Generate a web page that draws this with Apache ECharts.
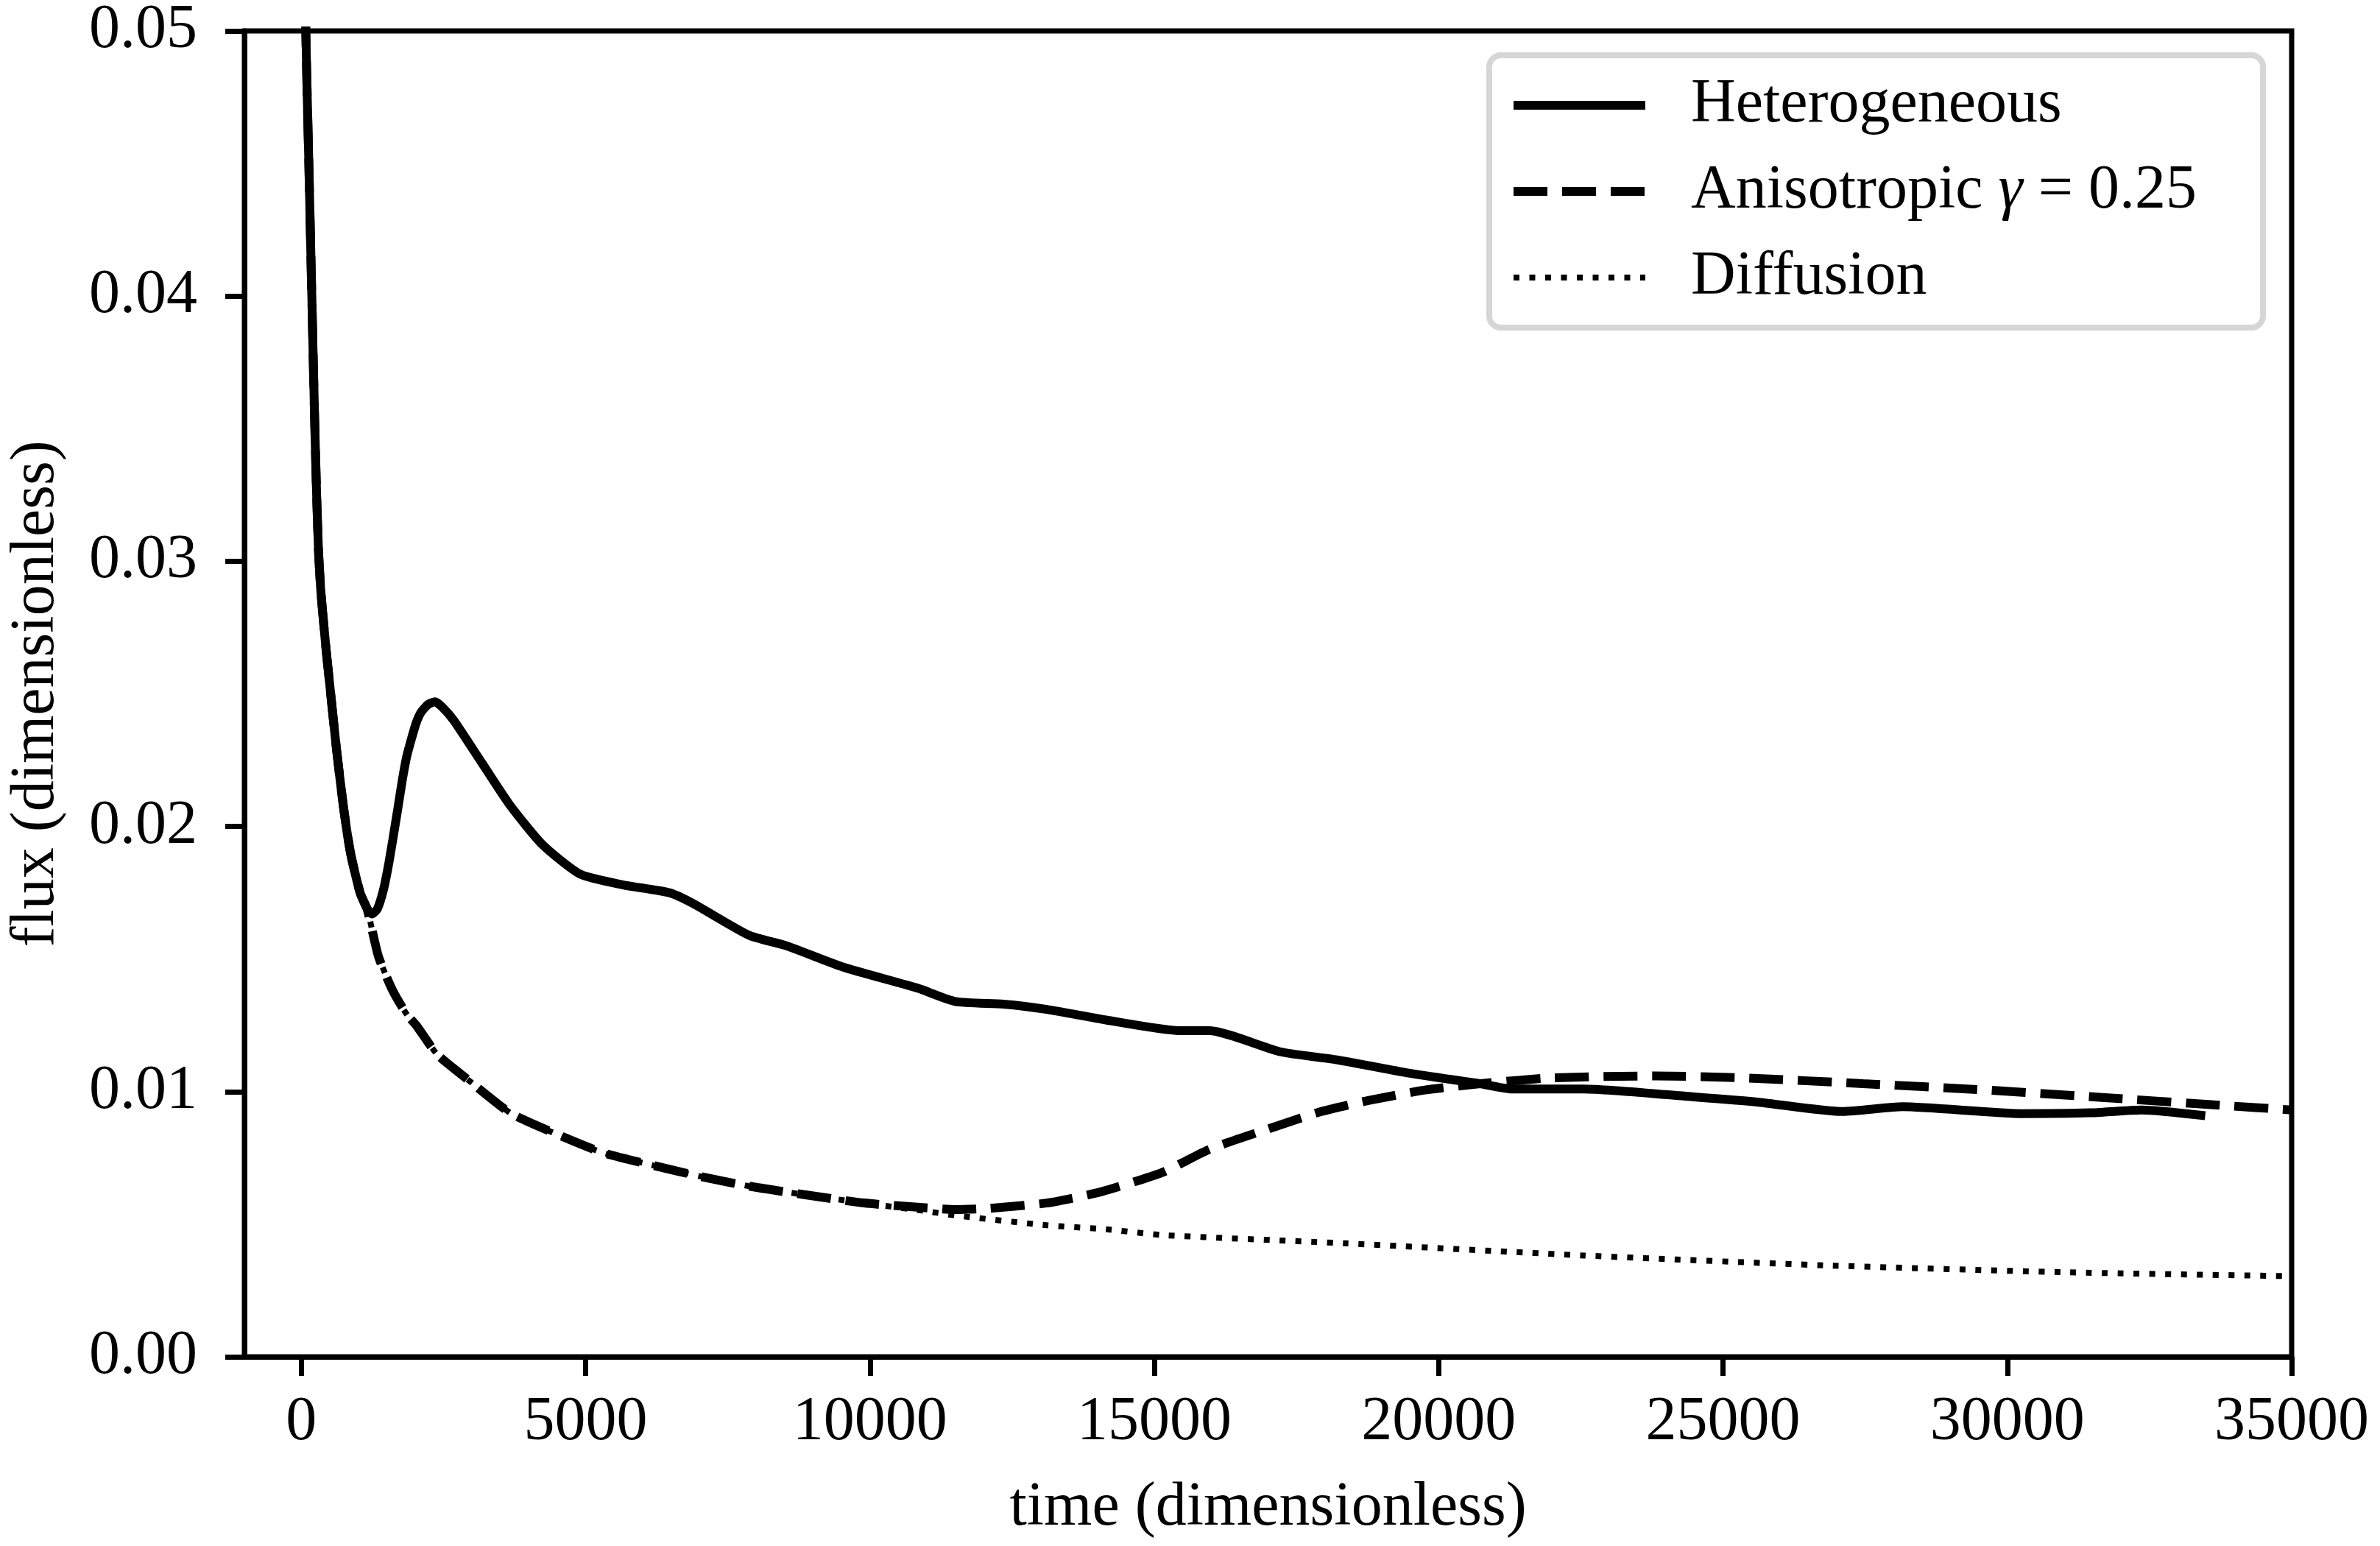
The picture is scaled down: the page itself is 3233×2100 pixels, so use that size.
<!DOCTYPE html>
<html>
<head>
<meta charset="utf-8">
<script src="https://cdn.jsdelivr.net/npm/echarts@6/dist/echarts.min.js"></script>
<style>
  html, body { margin: 0; padding: 0; background: #fff; }
  #main { width: 3233px; height: 2100px; }
</style>
</head>
<body>
<div id="main"></div>
<script>
var dom = document.getElementById("main");
var myChart = echarts.init(dom);

// [time, flux]
var earlyDrop = [[50,0.058],[80,0.050],[130,0.0453],[180,0.0405],[230,0.0358],[270,0.0325],[305,0.0303],[340,0.0290],[375,0.0281],[435,0.0267],
  [498,0.0254],[620,0.0229],[744,0.0207],[866,0.0190],[1034,0.0175],[1157,0.0169]];

var heterogeneous = earlyDrop.concat([[1240,0.0167],[1340,0.0169],[1444,0.0176],[1530,0.0185],[1609,0.0195],[1700,0.0207],[1773,0.0217],[1850,0.0226],[1937,0.0233],
  [2020,0.0239],[2104,0.0243],[2230,0.0246],[2351,0.0247],[2480,0.0245],[2681,0.0240],[3175,0.0224],[3670,0.0208],[4247,0.0193],[4906,0.0182],
  [5646,0.0178],[6471,0.0175],[6884,0.0171],[7868,0.0159],[8528,0.0155],[9522,0.0147],[10840,0.0139],[11500,0.0134],[12350,0.0133],[13110,0.0131],[14150,0.0127],
  [15440,0.0123],[15970,0.0123],[17220,0.0115],[18210,0.0112],[19470,0.0107],[20730,0.0103],[21290,0.0101],[22550,0.0101],[24490,0.0098],[25630,0.0096],[27110,0.00925],
  [28160,0.00943],[30260,0.00917],[31450,0.0092],[32360,0.00931],[33480,0.00909]]);

var anisotropic = earlyDrop.concat([[1357,0.0151],[1610,0.0138],[1859,0.0129],[2022,0.0125],[2391,0.0114],[2930,0.01045],[3680,0.00919],[4431,0.00845],[5286,0.00771],[6145,0.00724],[7003,0.00681],[7859,0.00644],
  [8824,0.00612],[9895,0.0058],[10967,0.00562],[11503,0.00555],[12039,0.00559],[13111,0.0058],[14075,0.00623],[15147,0.00696],[15975,0.00783],[16958,0.00856],[17940,0.00925],
  [18780,0.00967],[19762,0.01006],[20732,0.0103],[21998,0.01052],[23821,0.01059],[25359,0.01052],[27465,0.0103],[29559,0.01007],[31666,0.00978],[33773,0.00948],[35000,0.00931]]);

var diffusion = earlyDrop.concat([[1357,0.0151],[1610,0.0138],[1859,0.0129],[2022,0.0125],[2391,0.0114],[2930,0.01045],[3680,0.00919],[4431,0.00845],[5286,0.00771],[6145,0.00724],[7003,0.00681],[7859,0.00644],
  [8824,0.00612],[9895,0.0058],[10967,0.0055],[11503,0.00533],[13111,0.00496],[14153,0.00481],[15147,0.00459],[18353,0.00428],[22554,0.00382],[26768,0.00345],[30968,0.00319],[35000,0.00304]]);

var xTicks = [0, 5000, 10000, 15000, 20000, 25000, 30000, 35000];
var seriesNames = ['Heterogeneous', 'Anisotropic γ = 0.25', 'Diffusion'];

var font = 'Liberation Serif';

option = {
    animation: false,
    backgroundColor: '#fff',
    grid: {
        left: 328, right: 120, top: 33, bottom: 257,
        show: true, borderColor: '#000', borderWidth: 7, backgroundColor: 'transparent'
    },
    legend: {
        orient: 'vertical',
        left: 2023, top: 75,
        padding: [26, 90, 26, 27],
        itemWidth: 179, itemHeight: 12, itemGap: 33,
        backgroundColor: 'rgba(255,255,255,0.8)',
        borderColor: '#d6d6d6', borderWidth: 8, borderRadius: 16,
        itemStyle: { opacity: 0 },
        textStyle: {
            fontFamily: font, fontSize: 84, color: '#000', lineHeight: 84,
            padding: [0, 0, 0, 57],
            rich: {
                t: { fontFamily: font, fontSize: 84, color: '#000' },
                g: { fontFamily: font, fontSize: 84, color: '#000', fontStyle: 'italic' }
            }
        },
        formatter: function (name) {
            if (name === seriesNames[1]) return '{t|Anisotropic }{g|γ}{t| = 0.25}';
            return name;
        },
        data: [
            { name: seriesNames[0], lineStyle: { width: 12 } },
            { name: seriesNames[1], lineStyle: { width: 12 } },
            { name: seriesNames[2], lineStyle: { width: 8 } }
        ]
    },
    xAxis: {
        type: 'value', min: -1000, max: 35000,
        name: 'time (dimensionless)', nameLocation: 'middle', nameGap: 164,
        nameTextStyle: { fontFamily: font, fontSize: 84, color: '#000' },
        axisLine: { show: true, onZero: false, lineStyle: { color: '#000', width: 7 } },
        axisTick: { show: true, length: 26, lineStyle: { color: '#000', width: 7 }, customValues: xTicks },
        axisLabel: { margin: 48, fontFamily: font, fontSize: 84, color: '#000', customValues: xTicks,
            formatter: function (v) { return String(v); } },
        splitLine: { show: false }
    },
    yAxis: {
        type: 'value', min: 0, max: 0.05, interval: 0.01,
        name: 'flux (dimensionless)', nameLocation: 'middle', nameGap: 240, nameRotate: 90,
        nameTextStyle: { fontFamily: font, fontSize: 84, color: '#000' },
        axisLine: { show: true, onZero: false, lineStyle: { color: '#000', width: 7 } },
        axisTick: { show: true, length: 26, lineStyle: { color: '#000', width: 7 } },
        axisLabel: { margin: 64, fontFamily: font, fontSize: 84, color: '#000',
            formatter: function (v) { return v.toFixed(2); } },
        splitLine: { show: false }
    },
    series: [
        { name: seriesNames[0], type: 'line', data: heterogeneous, symbol: 'none', smooth: 0.2, clip: true,
          itemStyle: { color: '#000' },
          lineStyle: { color: '#000', width: 12, type: 'solid' } },
        { name: seriesNames[1], type: 'line', data: anisotropic, symbol: 'none', smooth: 0.2, clip: true,
          itemStyle: { color: '#000' },
          lineStyle: { color: '#000', width: 12, type: [46, 20] } },
        { name: seriesNames[2], type: 'line', data: diffusion, symbol: 'none', smooth: 0.2, clip: true,
          itemStyle: { color: '#000' },
          lineStyle: { color: '#000', width: 8, type: [8, 13.5] } }
    ]
};

if (option && typeof option === "object") {
    myChart.setOption(option, true);
}
</script>
</body>
</html>
